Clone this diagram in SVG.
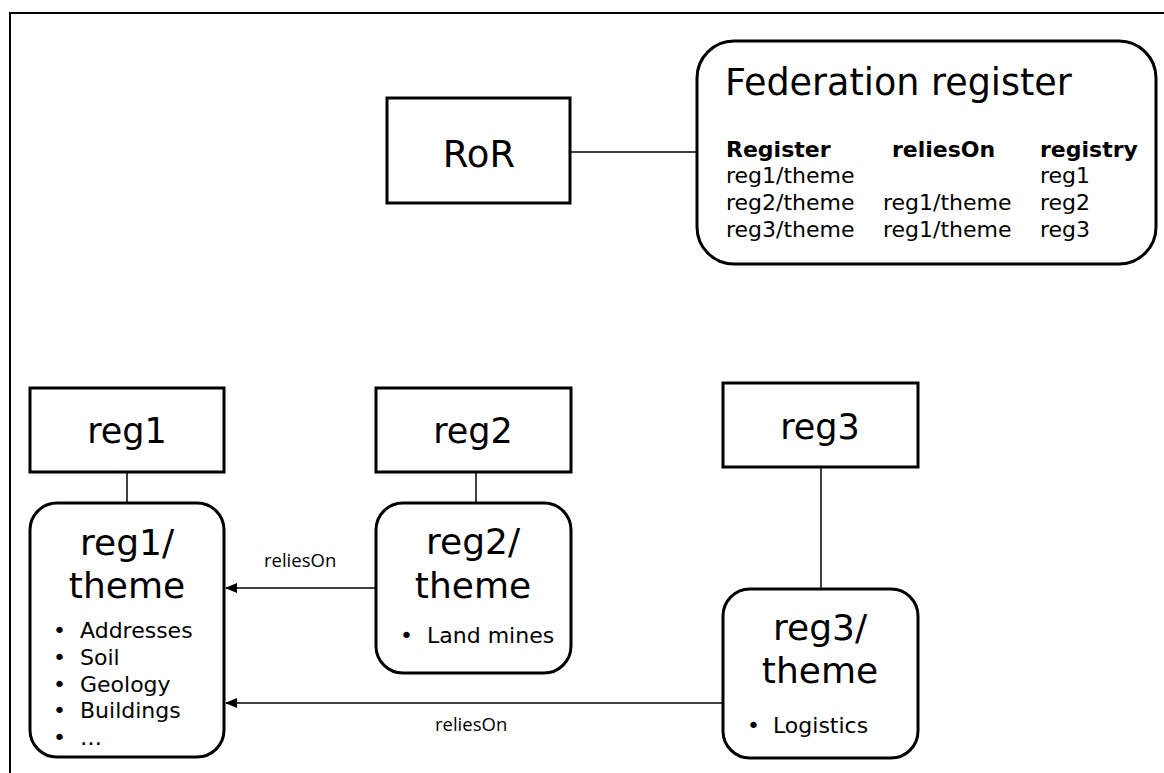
<svg xmlns="http://www.w3.org/2000/svg" width="1164" height="773" viewBox="0 0 1164 773">
<style>
.box{fill:#fff;stroke:#000;stroke-width:3}
.ln{fill:none;stroke:#000;stroke-width:1.5}
.t{font-family:"DejaVu Sans",Verdana,sans-serif;fill:#000}
.big{font-size:36px;text-anchor:middle}
.mid{font-size:35px;text-anchor:middle}
.sm{font-size:22px}
.b{font-weight:bold}
.lbl{font-family:"Open Sans","DejaVu Sans",sans-serif;font-size:18.5px;fill:#000}
</style>
<defs>
<marker id="arr" markerWidth="12" markerHeight="10" refX="11" refY="5" orient="auto" markerUnits="userSpaceOnUse">
<path d="M0,0 L12,5 L0,10 Z" fill="#000"/>
</marker>
</defs>
<rect width="1164" height="773" fill="#fff"/>
<path d="M10,773 V13 H1164" fill="none" stroke="#000" stroke-width="2"/>
<g id="connectors">
<line class="ln" x1="570" y1="152" x2="697" y2="152"/>
<line class="ln" x1="127" y1="472" x2="127" y2="503"/>
<line class="ln" x1="476" y1="472" x2="476" y2="503"/>
<line class="ln" x1="821" y1="467" x2="821" y2="589"/>
<line class="ln" x1="376" y1="588" x2="226" y2="588" marker-end="url(#arr)"/>
<text class="lbl" x="264" y="567">reliesOn</text>
<line class="ln" x1="723" y1="703" x2="226" y2="703" marker-end="url(#arr)"/>
<text class="lbl" x="435" y="731">reliesOn</text>
</g>
<g id="ror">
<rect class="box" x="387" y="98" width="183" height="105"/>
<text class="t" x="479" y="167" font-size="37" text-anchor="middle">RoR</text>
</g>
<g id="federation">
<rect class="box" x="697" y="41" width="459" height="223" rx="37" ry="37"/>
<text class="t" x="725" y="95" font-size="36.5">Federation register</text>
<text class="t sm b" x="726" y="157">Register</text>
<text class="t sm b" x="892" y="157">reliesOn</text>
<text class="t sm b" x="1040" y="157">registry</text>
<text class="t sm" x="726" y="183">reg1/theme</text>
<text class="t sm" x="1040" y="183">reg1</text>
<text class="t sm" x="726" y="210">reg2/theme</text>
<text class="t sm" x="883" y="210">reg1/theme</text>
<text class="t sm" x="1040" y="210">reg2</text>
<text class="t sm" x="726" y="237">reg3/theme</text>
<text class="t sm" x="883" y="237">reg1/theme</text>
<text class="t sm" x="1040" y="237">reg3</text>
</g>
<g id="reg1">
<rect class="box" x="30" y="388" width="194" height="84"/>
<text class="t mid" x="127" y="443">reg1</text>
</g>
<g id="reg1theme">
<rect class="box" x="30" y="503" width="194" height="254" rx="27" ry="27"/>
<text class="t big" x="127" y="555">reg1/</text>
<text class="t big" x="127" y="598">theme</text>
<text class="t sm" x="53" y="638">•</text><text class="t sm" x="80" y="638">Addresses</text>
<text class="t sm" x="53" y="665">•</text><text class="t sm" x="80" y="665">Soil</text>
<text class="t sm" x="53" y="692">•</text><text class="t sm" x="80" y="692">Geology</text>
<text class="t sm" x="53" y="718">•</text><text class="t sm" x="80" y="718">Buildings</text>
<text class="t sm" x="53" y="745">•</text><text class="t sm" x="80" y="745">…</text>
</g>
<g id="reg2">
<rect class="box" x="376" y="388" width="195" height="84"/>
<text class="t mid" x="473" y="443">reg2</text>
</g>
<g id="reg2theme">
<rect class="box" x="376" y="503" width="195" height="170" rx="27" ry="27"/>
<text class="t big" x="473" y="554">reg2/</text>
<text class="t big" x="473" y="598">theme</text>
<text class="t sm" x="400" y="643">•</text><text class="t sm" x="427" y="643">Land mines</text>
</g>
<g id="reg3">
<rect class="box" x="723" y="383" width="195" height="84"/>
<text class="t mid" x="820" y="439">reg3</text>
</g>
<g id="reg3theme">
<rect class="box" x="723" y="589" width="195" height="169" rx="27" ry="27"/>
<text class="t big" x="820" y="640">reg3/</text>
<text class="t big" x="820" y="683">theme</text>
<text class="t sm" x="747" y="733">•</text><text class="t sm" x="773" y="733">Logistics</text>
</g>
</svg>
